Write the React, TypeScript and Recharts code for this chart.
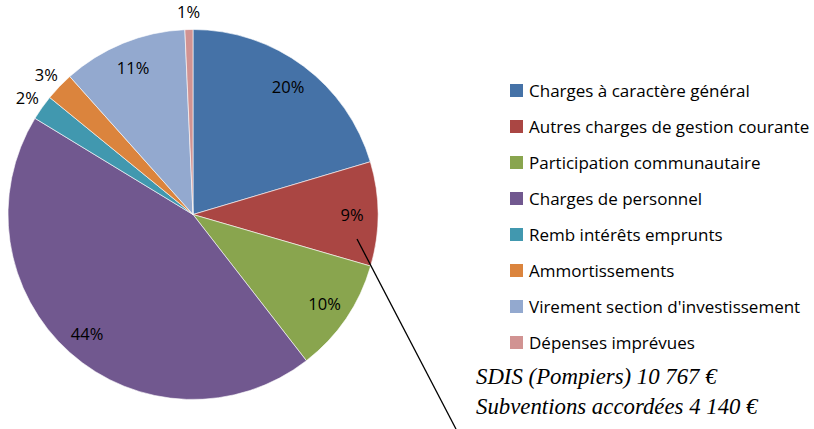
import React from 'react';
import { PieChart, Pie, Cell, Legend } from 'recharts';

// Répartition des dépenses de fonctionnement (%)
const categories = [
  'Charges à caractère général',
  'Autres charges de gestion courante',
  'Participation communautaire',
  'Charges de personnel',
  'Remb intérêts emprunts',
  'Ammortissements',
  "Virement section d'investissement",
  'Dépenses imprévues',
];
const shares = [20.4, 9.1, 10.0, 44.2, 2.2, 2.5, 10.9, 0.7];
const colors = ['#4572A7', '#AA4643', '#89A54E', '#71588F', '#4198AF', '#DB843D', '#93A9CF', '#D19392'];
const notes = ['SDIS (Pompiers) 10 767 €', 'Subventions accordées 4 140 €'];

const data = categories.map((name, i) => ({ name, value: shares[i] }));

const RAD = Math.PI / 180;
const FONT = '"Open Sans", Lato, sans-serif';

const renderLabel = (props: any) => {
  const { cx, cy, midAngle, outerRadius, percent } = props;
  const pct = percent * 100;
  const r = pct >= 5 ? outerRadius * 0.86 : outerRadius + 18;
  const x = cx + r * Math.cos(-midAngle * RAD);
  const y = cy + r * Math.sin(-midAngle * RAD);
  return (
    <text x={x} y={y} textAnchor="middle" dominantBaseline="central" fontSize={16.5} fontFamily={FONT} fill="#000">
      {Math.round(pct)}%
    </text>
  );
};

const renderLegend = () => (
  <div style={{ fontFamily: FONT, fontSize: 17, color: '#000' }}>
    {categories.map((c, i) => (
      <div key={c} style={{ display: 'flex', alignItems: 'center', height: 36 }}>
        <span style={{ width: 13, height: 13, background: colors[i], marginRight: 6, flex: 'none' }} />
        <span style={{ whiteSpace: 'nowrap' }}>{c}</span>
      </div>
    ))}
  </div>
);

export default function App() {
  return (
    <div style={{ position: 'absolute', left: 0, top: 0, width: 814, height: 429, background: '#fff', overflow: 'hidden' }}>
      <PieChart width={814} height={429} margin={{ top: 0, right: 0, bottom: 0, left: 0 }}>
        <Pie
          data={data}
          dataKey="value"
          nameKey="name"
          cx={193}
          cy={214.5}
          outerRadius={185}
          startAngle={90}
          endAngle={-270}
          stroke="#fff"
          strokeWidth={0.6}
          label={renderLabel}
          labelLine={false}
          isAnimationActive={false}
        >
          {data.map((d, i) => (
            <Cell key={d.name} fill={colors[i]} />
          ))}
        </Pie>
        <Legend
          layout="vertical"
          content={renderLegend}
          wrapperStyle={{ position: 'absolute', left: 510, top: 72, width: 304 }}
        />
      </PieChart>
      <svg width={814} height={429} style={{ position: 'absolute', left: 0, top: 0, pointerEvents: 'none' }}>
        <line x1={357} y1={239} x2={456} y2={429} stroke="#000" strokeWidth={1.3} />
        {notes.map((n, i) => (
          <text
            key={n}
            x={476}
            y={384 + i * 30}
            fontFamily='"Liberation Serif", serif'
            fontStyle="italic"
            fontSize={22.8}
            fill="#000"
          >
            {n}
          </text>
        ))}
      </svg>
    </div>
  );
}
